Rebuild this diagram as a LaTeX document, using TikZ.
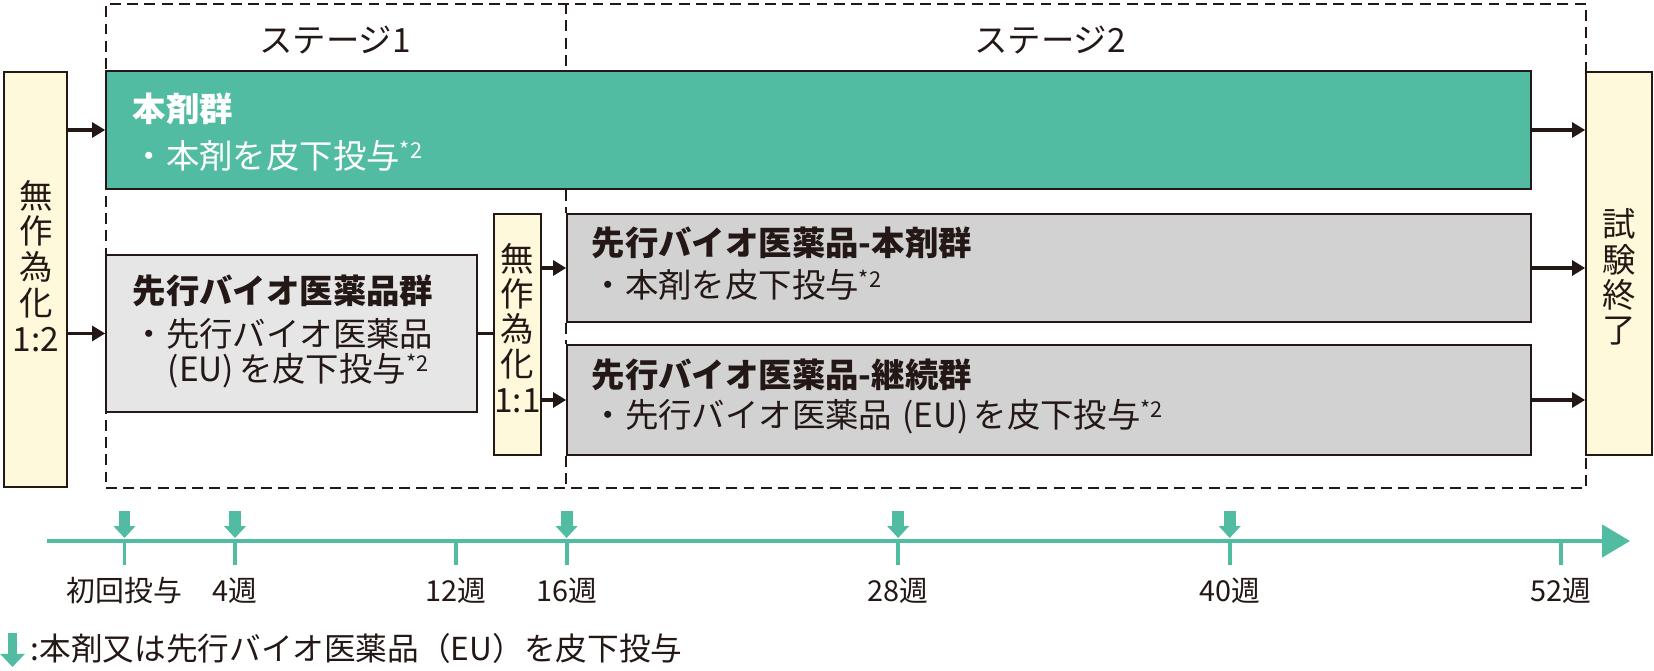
\documentclass[tikz,border=0pt]{standalone}
\usepackage{fontspec}
\setmainfont{Noto Sans CJK JP}
\usepackage{tikz}
\usetikzlibrary{positioning,arrows.meta,fit,calc}
\definecolor{drugteal}{HTML}{52BCA3}
\definecolor{ink}{HTML}{231815}
\definecolor{randfill}{HTML}{FFF9DB}
\definecolor{ctlfill}{HTML}{E6E6E6}
\definecolor{armfill}{HTML}{D2D2D2}
\newcommand{\astnote}{\raisebox{0.3em}{\fontsize{6.2}{6.2}\selectfont *2}}
\newcommand{\eutag}{\hspace{0.3em}(EU)\hspace{0.15em}}

\begin{document}
\begin{tikzpicture}[
  x=0.01cm, y=-0.01cm,
  font=\fontsize{9.5}{10}\selectfont, text=ink,
  frame/.style={draw=ink, line width=0.45pt, inner sep=0pt},
  randbox/.style={frame, fill=randfill},
  drugbox/.style={frame, fill=drugteal},
  ctlbox/.style={frame, fill=ctlfill},
  armbox/.style={frame, fill=armfill},
  vtxt/.style={align=center, inner sep=0pt, font=\fontsize{9.5}{10.2}\selectfont},
  grp/.style={align=left, anchor=west, inner sep=0pt},
  stagebox/.style={draw=ink, line width=0.45pt, dash pattern=on 3.1pt off 1.8pt, inner sep=0pt},
  stagelbl/.style={font=\fontsize{9.5}{10}\selectfont},
  flow/.style={draw=ink, line width=1.1pt, -{Triangle[length=3.7pt,width=4.2pt]}},
  link/.style={draw=ink, line width=1.1pt},
  timeaxis/.style={draw=drugteal, line width=1.2pt, -{Triangle[length=7.9pt,width=9.4pt,line width=0pt]}},
  wktick/.style={draw=drugteal, line width=1.1pt},
  dose/.style={draw=drugteal, line width=3.4pt, -{Triangle[length=3.4pt,width=6.3pt,line width=0pt]}},
  wklbl/.style={font=\fontsize{8.2}{9}\selectfont, inner sep=0pt},
]
\useasboundingbox (0,0) rectangle (1654,671);

% ---------- stages ----------
\node[stagebox, fit={(106,4) (1586,488)}] (stages) {};
\node[stagelbl] at (335,40) {ステージ1};
\node[stagelbl] at (1050,40) {ステージ2};

% ---------- boxes ----------
\node[randbox, fit={(4,72) (67,487)}] (r12) {};
\node[vtxt] at (36,266) {無\\作\\為\\化\\1:2};

\node[drugbox, fit={(106,71) (1531,189)}] (hon) {};
\node[grp, text=white] (honT) at (132,132.3)
  {\textbf{本剤群}\\[3.3pt]・本剤を皮下投与\astnote};

\node[ctlbox, fit={(106,255) (477,412)}] (ctl) {};
\node[grp] (ctlT) at (132,331.5)
  {\textbf{先行バイオ医薬品群}\\[2.3pt]・先行バイオ医薬品\\\hspace*{1.05em}(EU)\hspace{0.15em}を皮下投与\astnote};

\node[randbox, fit={(494,214) (541,455)}] (r11) {};
\node[vtxt, font=\fontsize{9.5}{10}\selectfont] at (517.5,328) {無\\作\\為\\化\\1:1};

\node[armbox, fit={(567,214) (1531,322)}] (armA) {};
\node[grp] (armAT) at (591,264)
  {\textbf{先行バイオ医薬品-本剤群}\\[2pt]・本剤を皮下投与\astnote};

\node[armbox, fit={(567,345) (1531,455)}] (armB) {};
\node[grp] (armBT) at (591,396.6)
  {\textbf{先行バイオ医薬品-継続群}\\[1.5pt]・先行バイオ医薬品\eutag を皮下投与\astnote};

\node[randbox, fit={(1586,72) (1652,455)}] (fin) {};
\node[vtxt, font=\fontsize{9.5}{10}\selectfont] at (1619,277) {試\\験\\終\\了};

% stage divider
\draw[stagebox] (stages.north -| armA.west) -- (hon.north -| armA.west);
\draw[stagebox] (hon.south -| armA.west) -- (armA.north -| armA.west);
\draw[stagebox] (armA.south -| armA.west) -- (armB.north -| armA.west);
\draw[stagebox] (armB.south -| armA.west) -- (stages.south -| armA.west);

% ---------- connectors ----------
\draw[flow] (r12.east |- hon.west) -- (hon.west);
\draw[flow] (r12.east |- ctl.west) -- (ctl.west);
\draw[link] (ctl.east) -- (r11.west |- ctl.east);
\draw[flow] (r11.east |- armA.west) -- (armA.west);
\draw[flow] (r11.east |- armB.west) -- (armB.west);
\draw[flow] (hon.east) -- (fin.west |- hon.east);
\draw[flow] (armA.east) -- (fin.west |- armA.east);
\draw[flow] (armB.east) -- (fin.west |- armB.east);

% ---------- timeline ----------
\coordinate (tl0) at (47,541);
\coordinate (tl1) at (1630,541);
\draw[timeaxis] (tl0) -- (tl1);
\foreach \w/\lab in {0/初回投与,4/4週,12/12週,16/16週,28/28週,40/40週,52/52週}{
  \pgfmathsetmacro{\tx}{124.5+27.63*\w}
  \coordinate (w\w) at (\tx,541);
  \draw[wktick] (w\w) -- ++(0,24);
  \node[wklbl] at (\tx,591) {\lab};
}
\foreach \w in {0,4,16,28,40}
  \draw[dose] ($(w\w)+(0,-30)$) -- ($(w\w)+(0,-3)$);

% legend
\coordinate (lgtop) at (12.5,633);
\coordinate (lgtip) at (12.5,667);
\draw[dose, line width=2.8pt, -{Triangle[length=3.7pt,width=7pt,line width=0pt]}] (lgtop) -- (lgtip);
\node[anchor=west, inner sep=0pt, font=\fontsize{9}{10}\selectfont] (lgT) at (30,648)
  {:本剤又は先行バイオ医薬品（EU）を皮下投与};
\end{tikzpicture}
\end{document}
